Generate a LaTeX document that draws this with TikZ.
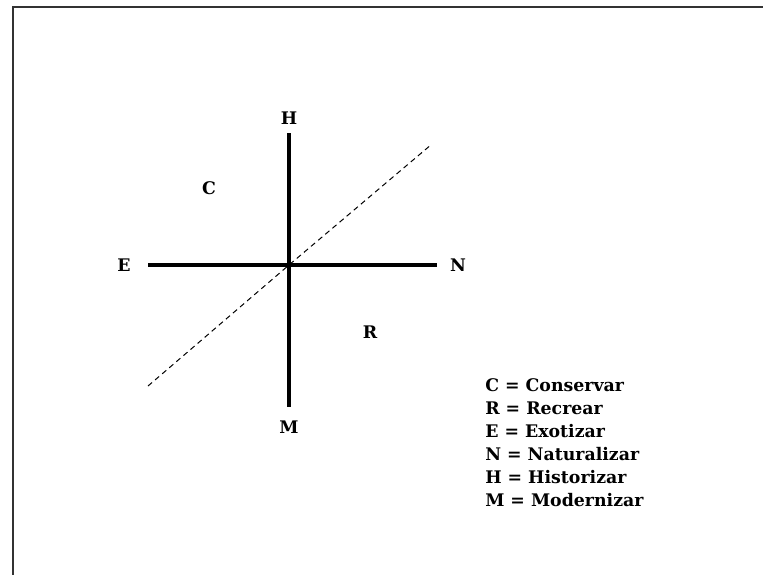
\documentclass[tikz,border=0pt]{standalone}
\usepackage{fontspec}
\setmainfont{DejaVu Serif}
\begin{document}
\begin{tikzpicture}[x=0.75pt,y=-0.75pt,
    lbl/.style={font=\fontsize{13}{15}\selectfont\bfseries,inner sep=0pt},
    axis/.style={line width=3pt},
    diag/.style={line width=0.75pt,dash pattern=on 4pt off 3pt}]
  \useasboundingbox (0,0) rectangle (763,575);
  % frame
  \coordinate (tr) at (763,6.5);
  \coordinate (tl) at (12.5,6.5);
  \coordinate (bl) at (12.5,575);
  \draw[line width=1.5pt,black!80] (tr) -- (tl) -- (bl);
  % axes
  \coordinate (O) at (289,265);
  \coordinate (top) at (289,133);
  \coordinate (bot) at (289,407);
  \coordinate (lft) at (148,265);
  \coordinate (rgt) at (437,265);
  \coordinate (dlo) at (148,386);
  \coordinate (dhi) at (432,144);
  \draw[diag] (dlo) -- (O) -- (dhi);
  \draw[axis] (top) -- (bot);
  \draw[axis] (lft) -- (rgt);
  \node[lbl] (H) at (289,118) {H};
  \node[lbl] (M) at (289,427) {M};
  \node[lbl] (E) at (124,265) {E};
  \node[lbl] (N) at (458,265) {N};
  \node[lbl] (C) at (209,188) {C};
  \node[lbl] (R) at (370,332) {R};
  % legend
  \foreach \txt [count=\i] in {C = Conservar, R = Recrear, E = Exotizar,
      N = Naturalizar, H = Historizar, M = Modernizar}
    \node[lbl,anchor=base west] (leg\i) at (485,{368+23*\i}) {\txt};
\end{tikzpicture}
\end{document}
